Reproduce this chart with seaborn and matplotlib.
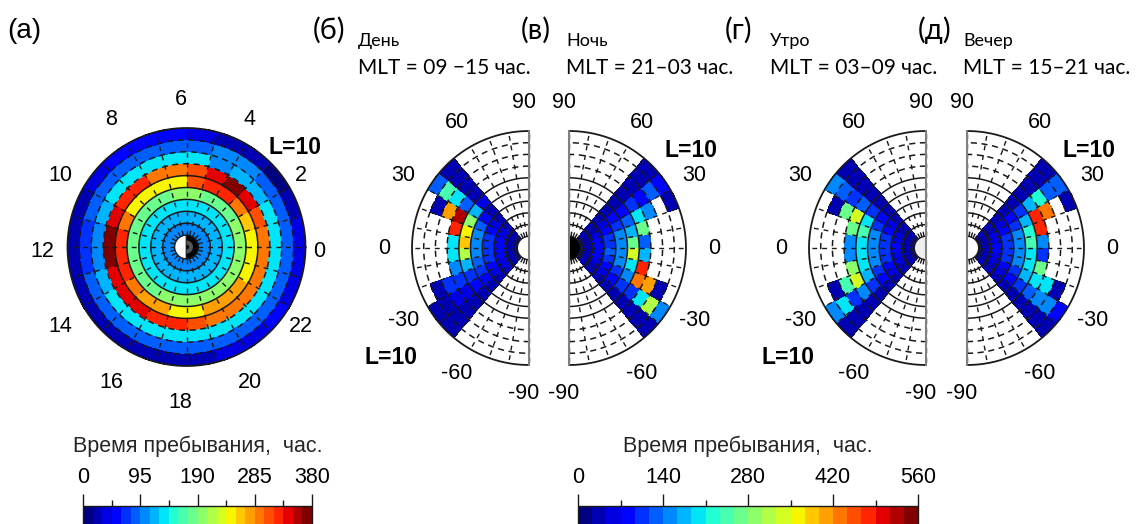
import numpy as np
import matplotlib
matplotlib.use("Agg")
import matplotlib.pyplot as plt
from matplotlib.colors import ListedColormap, Normalize
from matplotlib.patches import Wedge
from matplotlib.cm import ScalarMappable
import seaborn as sns

sns.set_theme(style="ticks")
plt.rcParams["font.family"] = ["Liberation Sans", "DejaVu Sans"]
plt.rcParams["text.color"] = "black"
plt.rcParams["xtick.color"] = "black"

nan = np.nan

# ---------------- data ----------------
L_EDGES = [1, 2, 3, 4, 5, 6, 7, 8, 9, 10]
MLT_EDGES = list(range(25))
LAT_EDGES = [-50, -40, -30, -20, -10, 0, 10, 20, 30, 40, 50]
HOUR_LABELS = [0, 2, 4, 6, 8, 10, 12, 14, 16, 18, 20, 22]
LAT_LABELS = [-90, -60, -30, 0, 30, 60, 90]
ALL_TICKS = [0, 95, 190, 285, 380]
SECT_TICKS = [0, 140, 280, 420, 560]

# (a) all MLT: rows L=1-2 ... 9-10, columns MLT 0-1 ... 23-24
TIME_ALL = [
    [108, 108, 108, 108, 108, 108, 108, 108, 108, 108, 108, 108, 108, 108, 108, 108, 108, 108, 108, 108, 108, 108, 108, 108],
    [112, 112, 112, 112, 112, 112, 112, 112, 112, 112, 112, 112, 112, 112, 112, 112, 112, 112, 112, 112, 112, 112, 112, 112],
    [130, 130, 130, 130, 130, 130, 130, 130, 130, 130, 130, 130, 130, 130, 130, 130, 130, 130, 130, 130, 130, 130, 130, 130],
    [190, 190, 185, 185, 185, 190, 190, 185, 180, 180, 175, 180, 185, 185, 185, 185, 190, 195, 195, 195, 190, 190, 190, 190],
    [245, 265, 290, 320, 320, 310, 250, 245, 245, 250, 300, 325, 330, 320, 300, 280, 270, 250, 245, 270, 275, 270, 245, 245],
    [295, 315, 335, 365, 335, 310, 285, 300, 320, 330, 335, 365, 365, 345, 335, 335, 330, 330, 310, 290, 285, 295, 295, 295],
    [140, 135, 125, 112, 110, 130, 138, 140, 140, 135, 118, 110, 110, 120, 132, 135, 138, 140, 140, 140, 142, 142, 142, 140],
    [85, 85, 90, 106, 106, 90, 80, 80, 85, 85, 80, 75, 75, 80, 85, 85, 80, 80, 80, 85, 85, 85, 85, 85],
    [35, 20, 15, 20, 30, 45, 50, 55, 50, 35, 30, 30, 30, 30, 30, 25, 25, 22, 30, 40, 45, 50, 45, 40],
]

# (б)-(д): rows L=1-2 ... 9-10, columns latitude -50..-40 ... 40..50
DAY = [
    [35, 35, 40, 40, 45, 45, 40, 40, 35, 35],
    [40, 50, 60, 70, 75, 75, 70, 60, 50, 40],
    [45, 60, 80, 95, 100, 100, 95, 85, 60, 45],
    [40, 70, 100, 130, 150, 150, 140, 120, 90, 40],
    [40, 70, 110, 170, 310, 380, 360, 300, 180, 50],
    [35, 60, 100, 140, 190, 200, 470, 530, 120, 40],
    [30, 50, 100, nan, nan, nan, nan, 400, 200, 35],
    [30, 35, 40, nan, nan, nan, nan, 40, 250, 35],
    [30, 30, nan, nan, nan, nan, nan, nan, 120, 30],
]
NIGHT = [
    [30, 30, 35, 35, 40, 40, 35, 30, 30, 30],
    [30, 45, 60, 70, 80, 80, 70, 55, 40, 30],
    [40, 60, 90, 110, 120, 115, 100, 80, 55, 40],
    [40, 80, 110, 140, 160, 150, 140, 110, 80, 40],
    [40, 100, 140, 200, 340, 260, 170, 130, 80, 40],
    [40, 100, 440, 470, 170, 130, 260, 200, 100, 40],
    [40, 200, 400, nan, nan, nan, nan, 150, 90, 40],
    [35, 310, 40, nan, nan, nan, nan, nan, 120, 40],
    [35, 140, nan, nan, nan, nan, nan, 40, 90, 35],
]
MORNING = [
    [30, 30, 35, 35, 40, 40, 35, 35, 30, 30],
    [35, 45, 55, 65, 70, 70, 65, 55, 45, 35],
    [40, 60, 80, 100, 110, 110, 100, 80, 60, 40],
    [40, 80, 110, 140, 160, 160, 140, 110, 80, 40],
    [40, 100, 170, 200, 190, 190, 240, 200, 110, 40],
    [40, 140, 340, 300, 160, 160, 260, 330, 130, 40],
    [35, 110, 240, nan, nan, nan, nan, 260, 110, 35],
    [35, 200, 40, nan, nan, nan, nan, 40, 120, 35],
    [30, 150, nan, nan, nan, nan, nan, nan, 150, 30],
]
EVENING = [
    [30, 30, 35, 35, 40, 40, 35, 35, 30, 30],
    [35, 45, 55, 65, 70, 70, 65, 55, 45, 35],
    [40, 60, 80, 100, 110, 110, 100, 80, 60, 40],
    [40, 80, 110, 140, 160, 160, 140, 110, 80, 40],
    [40, 110, 170, 200, 200, 250, 220, 180, 110, 40],
    [40, 130, 200, 260, 110, 150, 470, 480, 180, 40],
    [35, 150, 200, nan, nan, nan, nan, 420, 230, 35],
    [35, 150, 40, nan, nan, nan, nan, nan, 130, 35],
    [30, 90, nan, nan, nan, nan, nan, 40, 130, 30],
]

# ---------------- figure ----------------
W, H = 1143, 524
fig = plt.figure(figsize=(W / 100, H / 100), dpi=100)
jet24 = matplotlib.colormaps["jet"](np.linspace(0, 1, 24))
cmap = ListedColormap(sns.color_palette(jet24.tolist()))
norm_all = Normalize(0, ALL_TICKS[-1])
norm_sect = Normalize(0, SECT_TICKS[-1])
TITLE_FONT = ["Lato", "DejaVu Sans"]
NUM_SIZE = 15.5
LBL_SIZE = 16.5


def make_ax(cx, cy, ppl, ext=14.0):
    w = 2 * ext * ppl
    ax = fig.add_axes([(cx - w / 2) / W, 1 - (cy + w / 2) / H, w / W, w / H])
    ax.set_xlim(-ext, ext)
    ax.set_ylim(-ext, ext)
    ax.axis("off")
    ax.patch.set_alpha(0)
    return ax


def polar_mesh(ax, values, ang_edges, r_edges, norm, sub=6):
    vals = np.array(values, float)
    a = np.asarray(ang_edges, float)
    fine = np.concatenate([np.linspace(a[i], a[i + 1], sub + 1)[:-1] for i in range(len(a) - 1)] + [[a[-1]]])
    vf = np.repeat(vals, sub, axis=1)
    T, R = np.meshgrid(np.deg2rad(fine), np.asarray(r_edges, float))
    ax.pcolormesh(R * np.cos(T), R * np.sin(T), np.ma.masked_invalid(vf), cmap=cmap,
                  norm=norm, shading="flat", antialiased=False, linewidth=0)


def grid(ax, t0, t1, spokes):
    t = np.deg2rad(np.linspace(t0, t1, 400))
    for L in L_EDGES[1:6]:
        ax.plot(L * np.cos(t), L * np.sin(t), color="k", lw=1.1)
    for L in L_EDGES[6:9]:
        ax.plot(L * np.cos(t), L * np.sin(t), color="k", lw=1.1, ls=(0, (4, 3)))
    for s in spokes:
        a = np.deg2rad(s)
        ax.plot([1 * np.cos(a), 10 * np.cos(a)], [1 * np.sin(a), 10 * np.sin(a)],
                color="k", lw=1.0, ls=(0, (3.5, 3.5)))
    ax.plot(10 * np.cos(t), 10 * np.sin(t), color="k", lw=1.3)


# ---------- panel (a) ----------
axa = make_ax(186.5, 247, 11.9)
polar_mesh(axa, TIME_ALL, [m * 15 for m in MLT_EDGES], L_EDGES, norm_all, sub=4)
grid(axa, 0, 360, np.arange(0, 360, 15))
axa.add_patch(Wedge((0, 0), 1, 90, 270, fc="white", ec="k", lw=1, zorder=5))
axa.add_patch(Wedge((0, 0), 1, -90, 90, fc="black", ec="k", lw=1, zorder=5))
axa.add_patch(Wedge((0, 0), 0.55, -90, 90, width=0.35, fc="#555555", ec="none", zorder=6))
for h in HOUR_LABELS:
    a = np.deg2rad(h * 15)
    axa.text(11.65 * np.cos(a) - 0.5, 12.75 * np.sin(a) - 0.34, str(h), ha="center", va="center", fontsize=NUM_SIZE)
axa.text(9.1, 8.4, "L=10", ha="center", va="center", fontsize=LBL_SIZE, fontweight="bold")

# ---------- panels (б)-(д) ----------
panels = [
    (529, DAY, "left", "white"),
    (569, NIGHT, "right", "black"),
    (926, MORNING, "left", "#eeeeee"),
    (967, EVENING, "right", "white"),
]
for cx, data, side, earth in panels:
    ax = make_ax(cx, 248, 11.7)
    if side == "left":
        ang = [180 - v for v in LAT_EDGES]
        t0, t1 = 90, 270
        sgn = -1
    else:
        ang = list(LAT_EDGES)
        t0, t1 = -90, 90
        sgn = 1
    polar_mesh(ax, data, ang, L_EDGES, norm_sect)
    grid(ax, t0, t1, [t for t in np.arange(t0, t1 + 1, 10)])
    ax.plot([0, 0], [-10, 10], color="#808080", lw=1.5, zorder=6)
    ax.add_patch(Wedge((0, 0), 1, t0, t1, fc=earth, ec="k", lw=1, zorder=5))
    for lat in LAT_LABELS:
        a = np.deg2rad(lat)
        x = sgn * 12.4 * np.cos(a)
        if abs(lat) == 90:
            x = -0.45
        ax.text(x, 12.4 * np.sin(a), str(lat), ha="center", va="center", fontsize=NUM_SIZE)
    if side == "left":
        ax.text(-11.8, -9.4, "L=10", ha="center", va="center", fontsize=LBL_SIZE, fontweight="bold")
    else:
        ax.text(10.4, 8.3, "L=10", ha="center", va="center", fontsize=LBL_SIZE, fontweight="bold")


def ftext(x, y, s, **kw):
    fig.text(x / W, 1 - y / H, s, **kw)


ftext(7, 31, "(a)", fontsize=20, va="center", ha="left")
titles = [
    (313, "(б)", "День", "MLT = 09 \u221215 час."),
    (521, "(в)", "Ночь", "MLT = 21\u201303 час."),
    (725, "(г)", "Утро", "MLT = 03\u201309 час."),
    (918, "(д)", "Вечер", "MLT = 15\u201321 час."),
]
for x, lab, name, mlt in titles:
    ftext(x, 30, lab, fontsize=21, va="center", ha="left", family=TITLE_FONT)
    ftext(x + 45, 41, name, fontsize=13, va="center", ha="left", family=TITLE_FONT)
    ftext(x + 45, 68, mlt, fontsize=15, va="center", ha="left", family=TITLE_FONT)


def colorbar(x0, x1, ticks, norm):
    cax = fig.add_axes([x0 / W, 1 - (506 + 30) / H, (x1 - x0) / W, 30 / H])
    sm = ScalarMappable(norm=norm, cmap=cmap)
    cb = fig.colorbar(sm, cax=cax, orientation="horizontal", ticks=ticks)
    cax.set_xticks([(ticks[i] + ticks[i + 1]) / 2 for i in range(len(ticks) - 1)], minor=True)
    cax.tick_params(axis="x", which="both", top=True, labeltop=True, bottom=False,
                    labelbottom=False, direction="out", width=1, color="k")
    cax.tick_params(axis="x", which="major", length=9, labelsize=15.5, pad=4)
    cax.tick_params(axis="x", which="minor", length=4.5)
    cax.xaxis.set_label_position("top")
    cb.set_label("Время пребывания,  час.", fontsize=15.5, labelpad=11)
    cb.outline.set_linewidth(1)
    cb.outline.set_edgecolor("k")


colorbar(83, 312, ALL_TICKS, norm_all)
colorbar(578, 918, SECT_TICKS, norm_sect)

fig.savefig("out.png", dpi=100)
